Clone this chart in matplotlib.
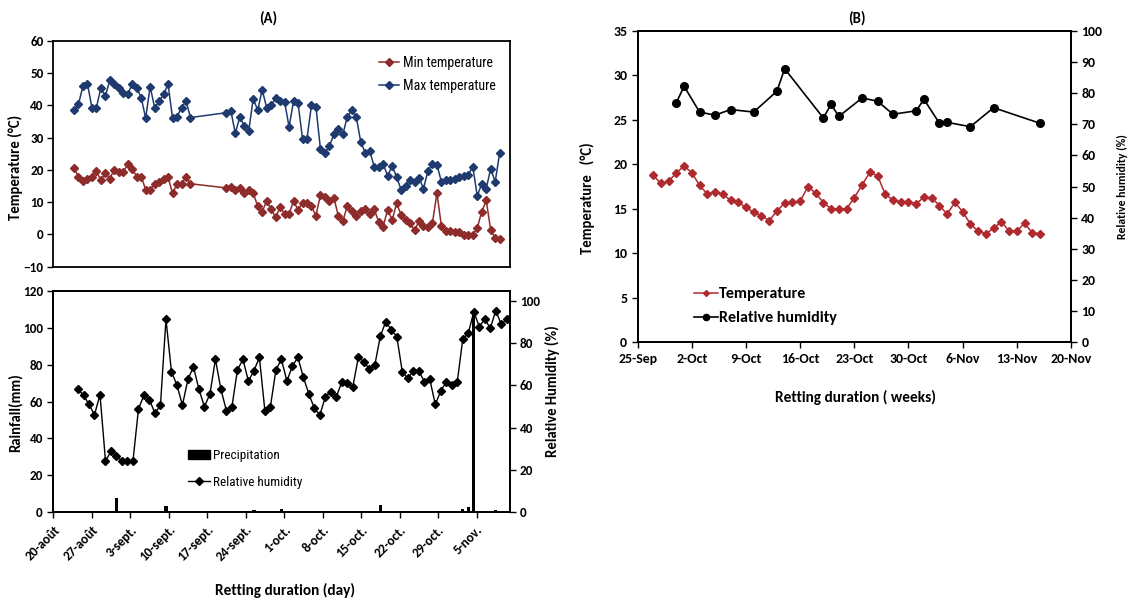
import numpy as np
import matplotlib
matplotlib.use('Agg')
import matplotlib.pyplot as plt
from matplotlib import font_manager
from matplotlib.lines import Line2D
from matplotlib.patches import Patch

names = {f.name for f in font_manager.fontManager.ttflist}
def pick(*cands):
    for c in cands:
        if c in names:
            return c
    return 'DejaVu Sans'
MAIN = pick('Carlito', 'Lato', 'Open Sans', 'DejaVu Sans')
NARROW = pick('Liberation Sans Narrow', 'Roboto Condensed', 'Lato', 'DejaVu Sans')
plt.rcParams['font.family'] = [MAIN, 'DejaVu Sans']

# ---------------- Panel A (top): daily min / max temperature ----------------
a_day = list(range(1, 97))
max_temp = [38.5, 40.3, 45.9, 46.7, 39.3, 39.2, 45.4, 42.8, 47.8, 46.6,
            45.4, 43.9, 43.4, 46.6, 45.4, 42.4, 36.0, 45.8, 39.3, 41.2,
            43.4, 46.5, 36.0, 36.4, 39.3, 41.3, 36.2, None, None, None,
            None, None, None, None, 37.7, 38.3, 31.4, 36.3, 33.6, 32.1,
            42.0, 38.5, 44.8, 39.3, 40.1, 42.1, 41.2, 41.1, 33.3, 41.2,
            40.7, 29.7, 29.7, 40.0, 39.5, 26.5, 25.3, 27.4, 31.0, 32.5,
            31.0, 36.4, 38.5, 36.4, 28.6, 25.3, 25.9, 21.0, 21.0, 21.9,
            18.1, 21.2, 17.8, 13.9, 15.1, 16.9, 16.3, 17.6, 14.2, 19.7,
            21.7, 21.6, 16.3, 17.0, 17.0, 17.2, 17.8, 18.2, 18.4, 21.0,
            11.9, 15.7, 14.2, 20.4, 16.3, 25.2]
min_temp = [20.6, 17.9, 16.5, 17.1, 17.9, 19.5, 16.8, 19.1, 17.3, 20.1,
            19.4, 19.4, 21.7, 20.4, 17.9, 17.9, 13.9, 13.9, 15.5, 16.3,
            17.1, 17.7, 12.7, 15.6, 15.6, 17.8, 15.7, None, None, None,
            None, None, None, None, 14.4, 14.8, 13.7, 14.4, 12.9, 13.9,
            12.7, 8.8, 7.0, 10.4, 7.8, 5.3, 8.4, 6.4, 6.2, 10.4,
            7.6, 9.8, 9.8, 8.7, 5.8, 12.2, 11.6, 10.2, 11.3, 5.8,
            4.1, 8.8, 7.3, 5.8, 7.4, 7.8, 6.3, 7.8, 3.9, 2.4,
            7.7, 4.4, 9.6, 6.1, 4.5, 3.5, 1.3, 4.0, 2.6, 2.2,
            3.6, 12.8, 2.6, 1.0, 1.0, 0.8, 0.8, -0.2, -0.2, -0.2,
            2.0, 7.0, 10.6, 1.3, -1.0, -1.5]

# ---------------- Panel A (bottom): rainfall and relative humidity ----------
rh_start = '2015-08-24'
rh_a = [58.1, 55.3, 51.0, 46.1, 55.6, 24.3, 28.8, 26.6, 24.3, 24.3,
        24.3, 48.8, 55.4, 53.1, 46.8, 50.6, 91.2, 66.5, 60.0, 50.7,
        62.8, 68.8, 58.1, 49.9, 55.9, 72.3, 58.1, 48.0, 49.9, 67.2,
        72.3, 62.0, 66.9, 73.2, 47.9, 49.9, 67.2, 72.3, 62.0,
        69.1, 73.2, 63.8, 55.9, 49.1, 46.0, 54.6, 57.0, 54.6, 61.7,
        60.9, 59.4, 73.2, 71.2, 67.7, 69.6, 83.3, 90.1, 86.1, 83.0,
        66.3, 63.3, 66.9, 66.9, 61.7, 62.8, 51.0, 57.3, 61.7, 60.2,
        61.7, 81.9, 84.6, 94.8, 87.7, 91.3, 86.9, 95.3, 88.8, 91.3]
precip_dates = ['2015-08-31', '2015-09-09', '2015-09-25', '2015-09-30',
                '2015-10-01', '2015-10-18', '2015-10-20', '2015-11-02',
                '2015-11-03', '2015-11-04', '2015-11-08']
precip = [7.6, 3.2, 1.4, 1.8, 0.9, 4.0, 0.5, 1.8, 2.9, 109.5, 1.4]
a_ticks = ['2015-08-20', '2015-08-27', '2015-09-03', '2015-09-10',
           '2015-09-17', '2015-09-24', '2015-10-01', '2015-10-08',
           '2015-10-15', '2015-10-22', '2015-10-29', '2015-11-05']
a_tick_labels = ['20-août', '27-août', '3-sept.', '10-sept.', '17-sept.',
                 '24-sept.', '1-oct.', '8-oct.', '15-oct.', '22-oct.',
                 '29-oct.', '5-nov.']

# ---------------- Panel B: temperature and relative humidity ----------------
b_temp_start = '2015-09-27'
b_temp = [18.76, 17.86, 18.08, 19.02, 19.8, 19.06, 17.63, 16.66, 16.89, 16.66,
          15.95, 15.72, 15.16, 14.6, 14.23, 13.67, 14.75, 15.65, 15.72, 15.84,
          17.48, 16.77, 15.69, 15.0, 15.0, 15.0, 16.25, 17.67, 19.09, 18.72,
          16.62, 15.99, 15.8, 15.8, 15.57, 16.29, 16.25, 15.35, 14.41, 15.72,
          14.68, 13.29, 12.5, 12.2, 12.8, 13.55, 12.5, 12.5, 13.37, 12.3, 12.2]
b_rh_dates = ['2015-09-30', '2015-10-01', '2015-10-03', '2015-10-05',
              '2015-10-07', '2015-10-10', '2015-10-13', '2015-10-14',
              '2015-10-19', '2015-10-20', '2015-10-21', '2015-10-24',
              '2015-10-26', '2015-10-28', '2015-10-31', '2015-11-01',
              '2015-11-03', '2015-11-04', '2015-11-07', '2015-11-10',
              '2015-11-16']
b_rh = [76.9, 82.2, 73.9, 72.9, 74.7, 73.9, 80.6, 87.8, 72.0, 76.4, 72.5,
        78.4, 77.4, 73.2, 74.3, 78.0, 70.3, 70.6, 69.2, 75.3, 70.3]
b_ticks = ['2015-09-25', '2015-10-02', '2015-10-09', '2015-10-16',
           '2015-10-23', '2015-10-30', '2015-11-06', '2015-11-13',
           '2015-11-20']
b_tick_labels = ['25-Sep', '2-Oct', '9-Oct', '16-Oct', '23-Oct', '30-Oct',
                 '6-Nov', '13-Nov', '20-Nov']

BLUE = '#1F3A6E'
RED_A = '#8E2B2B'
RED_B = '#AE2A2E'
SPW = 1.3


def bold_ticks(ax, size):
    for lab in ax.get_xticklabels() + ax.get_yticklabels():
        lab.set_fontweight('bold')
        lab.set_fontsize(size)


def d64(s):
    return np.datetime64(s, 'h')


fig = plt.figure(figsize=(11.31, 6.05), dpi=100)

# ---------- top of A ----------
axT = fig.add_axes([0.0471, 0.5592, 0.4038, 0.3735])
xmx = [d for d, v in zip(a_day, max_temp) if v is not None]
vmx = [v for v in max_temp if v is not None]
xmn = [d for d, v in zip(a_day, min_temp) if v is not None]
vmn = [v for v in min_temp if v is not None]
axT.plot(xmn, vmn, color=RED_A, marker='D', ms=3.6, lw=1.1, label='Min temperature')
axT.plot(xmx, vmx, color=BLUE, marker='D', ms=3.6, lw=1.1, label='Max temperature')
axT.set_ylim(-10, 60)
axT.set_yticks(range(-10, 61, 10))
axT.set_xlim(-3.62, 98.3)
axT.set_xticks([])
axT.tick_params(axis='y', direction='out', length=4, width=1, pad=3)
bold_ticks(axT, 9.5)
for s in axT.spines.values():
    s.set_linewidth(SPW)
axT.set_ylabel('Temperature (°C)', fontweight='bold', fontsize=10.5)
axT.yaxis.set_label_coords(-0.066, 0.44)
axT.legend(loc='upper left', bbox_to_anchor=(0.713, 0.932), frameon=False,
           borderpad=0, borderaxespad=0, handlelength=1.45, handletextpad=0.25,
           labelspacing=0.62, prop={'family': NARROW, 'size': 10})

# ---------- bottom of A ----------
axR = fig.add_axes([0.0471, 0.1532, 0.4034, 0.3663])
axR2 = axR.twinx()
half = np.timedelta64(12, 'h')
px = np.array([d64(s) for s in precip_dates]) + half
axR.bar(px, precip, width=0.6, color='black', zorder=2)
rx = d64(rh_start) + np.arange(len(rh_a)) * np.timedelta64(24, 'h') + half
axR2.plot(rx, rh_a, color='black', marker='D', ms=3.6, lw=1.0)
axR.set_ylim(0, 120)
axR.set_yticks(range(0, 121, 20))
axR2.set_ylim(0, 104.7)
axR2.set_yticks(range(0, 101, 20))
axR.set_xlim(d64('2015-08-20'), d64('2015-11-11'))
axR.set_xticks([d64(s) for s in a_ticks])
axR.set_xticklabels(a_tick_labels, rotation=45, ha='right', rotation_mode='anchor')
axR.tick_params(axis='both', direction='out', length=4, width=1)
axR.tick_params(axis='x', pad=4)
axR2.tick_params(axis='y', direction='out', length=4, width=1)
bold_ticks(axR, 9.5)
bold_ticks(axR2, 9.5)
for s in axR2.spines.values():
    s.set_linewidth(SPW)
for s in axR.spines.values():
    s.set_linewidth(SPW)
axR.set_ylabel('Rainfall(mm)', fontweight='bold', fontsize=10.5)
axR.yaxis.set_label_coords(-0.066, 0.45)
axR2.set_ylabel('Relative Humidity (%)', fontweight='bold', fontsize=10.5)
axR2.yaxis.set_label_coords(1.078, 0.545)
h_a = [Patch(facecolor='black', edgecolor='black'),
       Line2D([], [], color='black', marker='D', ms=3.6, lw=1.0)]
axR2.legend(h_a, ['Precipitation', 'Relative humidity'], loc='upper left',
            bbox_to_anchor=(0.295, 0.286), frameon=False, borderpad=0,
            borderaxespad=0, handlelength=1.7, handletextpad=0.2,
            labelspacing=1.03, prop={'family': NARROW, 'size': 9.5})

# ---------- B ----------
axB = fig.add_axes([0.5638, 0.4342, 0.3831, 0.5150])
axB2 = axB.twinx()
tx = d64(b_temp_start) + np.arange(len(b_temp)) * np.timedelta64(24, 'h')
axB.plot(tx, b_temp, color=RED_B, marker='D', ms=3.6, lw=1.1)
bx = np.array([d64(s) for s in b_rh_dates])
axB2.plot(bx, b_rh, color='black', marker='o', ms=5.5, lw=1.2)
axB.set_ylim(0, 35)
axB.set_yticks(range(0, 36, 5))
axB2.set_ylim(0, 100)
axB2.set_yticks(range(0, 101, 10))
axB.set_xlim(d64('2015-09-25'), d64('2015-11-20'))
axB.set_xticks([d64(s) for s in b_ticks])
axB.set_xticklabels(b_tick_labels)
axB.tick_params(axis='both', direction='out', length=4, width=1)
axB2.tick_params(axis='y', direction='out', length=4, width=1)
bold_ticks(axB, 10)
bold_ticks(axB2, 10)
for s in list(axB.spines.values()) + list(axB2.spines.values()):
    s.set_linewidth(SPW)
axB.set_ylabel('Temperature   (°C)', fontweight='bold', fontsize=10.5)
axB.yaxis.set_label_coords(-0.0985, 0.463)
axB2.set_ylabel('Relative humidity (%)', fontweight='bold', fontsize=8.5)
axB2.yaxis.set_label_coords(1.106, 0.50)
h_b = [Line2D([], [], color=RED_B, marker='D', ms=3.0, lw=1.1),
       Line2D([], [], color='black', marker='o', ms=4.5, lw=1.2)]
axB2.legend(h_b, ['Temperature', 'Relative humidity'], loc='upper left',
            bbox_to_anchor=(0.131, 0.177), frameon=False, borderpad=0,
            borderaxespad=0, handlelength=1.45, handletextpad=0.1,
            labelspacing=0.62, prop={'size': 11.5, 'weight': 'semibold'})

# ---------- titles and x labels ----------
fig.text(268 / 1131, 1 - 18 / 605, '(A)', ha='center', va='center',
         fontweight='bold', fontsize=10.5)
fig.text(857 / 1131, 1 - 18 / 605, '(B)', ha='center', va='center',
         fontweight='bold', fontsize=10.5)
fig.text(285 / 1131, 1 - 590 / 605, 'Retting duration (day)', ha='center',
         va='center', fontweight='bold', fontsize=11)
fig.text(855 / 1131, 1 - 397 / 605, 'Retting duration ( weeks)', ha='center',
         va='center', fontweight='bold', fontsize=11)

fig.savefig('out.png', dpi=100)
